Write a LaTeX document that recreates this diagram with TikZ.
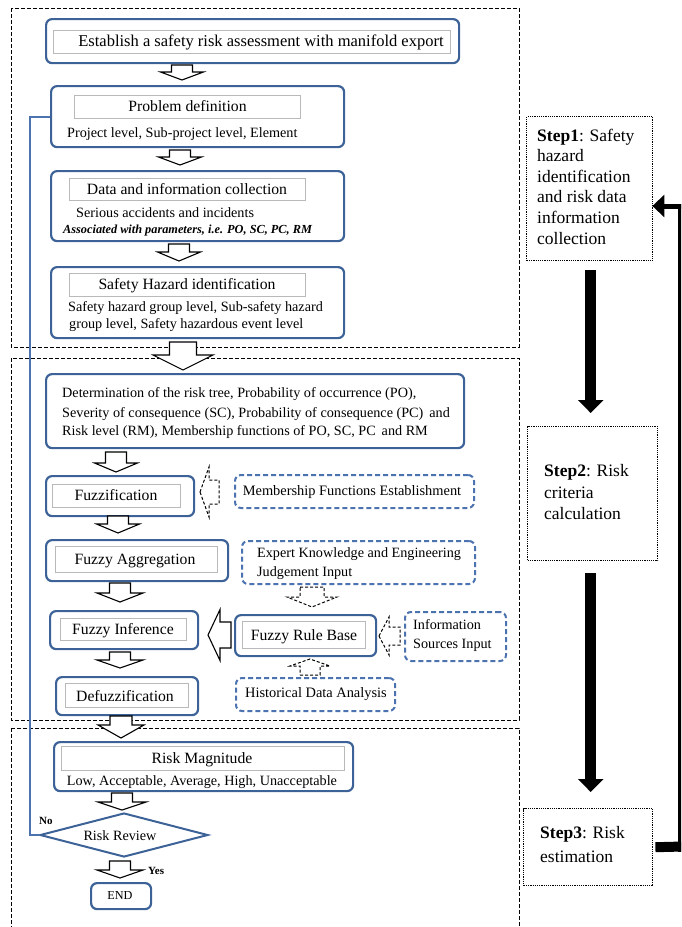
\documentclass[tikz,border=0pt]{standalone}
\usepackage{fontspec}
\setmainfont{Liberation Serif}
\usetikzlibrary{calc,arrows.meta,shapes.geometric}
\definecolor{blu}{RGB}{60,98,152}
\definecolor{blul}{RGB}{75,115,175}
\newcommand\fHead{\fontsize{15.7}{18}\selectfont}
\newcommand\fBody{\fontsize{14.2}{18}\selectfont}
\newcommand\fStep{\fontsize{17.5}{21}\selectfont}
% vertical hollow arrow pointing down: x, ytop, ytip, shaft half, head half, head len, style
\newcommand\hdown[7]{\draw[#7] ({#1-#4},#2) -- ({#1+#4},#2) -- ({#1+#4},{#3-#6}) -- ({#1+#5},{#3-#6}) -- (#1,#3) -- ({#1-#5},{#3-#6}) -- ({#1-#4},{#3-#6}) -- cycle;}
% vertical hollow arrow pointing up: x, ybottom, ytip, shaft half, head half, head len, style
\newcommand\hup[7]{\draw[#7] ({#1-#4},#2) -- ({#1+#4},#2) -- ({#1+#4},{#3+#6}) -- ({#1+#5},{#3+#6}) -- (#1,#3) -- ({#1-#5},{#3+#6}) -- ({#1-#4},{#3+#6}) -- cycle;}
% horizontal hollow arrow pointing left: xtip, xend, yc, shaft half, head half, head len, style
\newcommand\hleft[7]{\draw[#7] (#1,#3) -- ({#1+#6},{#3-#5}) -- ({#1+#6},{#3-#4}) -- (#2,{#3-#4}) -- (#2,{#3+#4}) -- ({#1+#6},{#3+#4}) -- ({#1+#6},{#3+#5}) -- cycle;}
\tikzset{
  bbox/.style={draw=blu, line width=2.2pt, rounded corners=6pt, inner sep=0pt, anchor=north west},
  gbox/.style={draw=gray!55, line width=1pt, fill=white, inner sep=0pt, anchor=north west},
  dbox/.style={draw=blul, line width=2pt, dash pattern=on 5pt off 3pt, rounded corners=6pt, inner sep=0pt, anchor=north west},
  region/.style={draw=black, line width=0.9pt, dash pattern=on 4pt off 2pt},
  stepbox/.style={draw=black, line width=1.4pt, dash pattern=on 1.2pt off 1pt, inner sep=0pt, anchor=north west},
  hollow/.style={draw=black, line width=1.1pt, fill=white, line join=miter},
  dhollow/.style={draw=black, line width=1pt, dash pattern=on 3pt off 2pt, fill=white, line join=miter},
  hd/.style={font=\fHead, inner sep=0pt, anchor=base},
  bd/.style={font=\fBody, inner sep=0pt, anchor=base west},
  st/.style={font=\fStep, inner sep=0pt, anchor=base west},
  thick arrow/.style={line width=11pt, -{Triangle[width=25pt,length=13pt]}},
  fb/.style={draw=blul, line width=2pt},
}
\begin{document}
\begin{tikzpicture}[x=1pt,y=-1pt]
\useasboundingbox (0,0) rectangle (681,927);
\clip (0,0) rectangle (681,927);

% ---- dashed regions
\draw[region] (11,8) rectangle (519,347);
\draw[region] (11,358) rectangle (519,720);
\draw[region] (11,728) rectangle (519,960);

% ---- feedback blue line (No)
\coordinate (fbx) at (30,0);

% ---- section 1
\node[bbox, minimum width=413, minimum height=44] (est) at (45,18) {};
\node[gbox, minimum width=397, minimum height=23] (estin) at (53,30) {};
\node[hd, font=\fontsize{16.5}{18}\selectfont] (estt) at (261,46) {Establish a safety risk assessment with manifold export};

\node[bbox, minimum width=293, minimum height=61] (prob) at (50,85) {};
\node[gbox, minimum width=226, minimum height=23] (probin) at (74,95) {};
\node[hd] (probt) at (187.5,111.5) {Problem definition};
\node[bd] (probl) at (67,137) {Project level, Sub-project level, Element};

\node[bbox, minimum width=293, minimum height=70] (data) at (50,170) {};
\node[gbox, minimum width=236, minimum height=22] (datain) at (69,178) {};
\node[hd] (datat) at (187,194) {Data and information collection};
\node[bd] (datal1) at (76,217) {Serious accidents and incidents};
\node[bd, font=\fontsize{12.3}{14}\selectfont\itshape\bfseries] (datal2) at (63,233) {Associated with parameters, i.e. PO, SC, PC, RM};

\node[bbox, minimum width=293, minimum height=71] (haz) at (50,266) {};
\node[gbox, minimum width=236, minimum height=23] (hazin) at (69,273) {};
\node[hd] (hazt) at (187,289) {Safety Hazard identification};
\node[bd] (hazl1) at (68,311) {Safety hazard group level, Sub-safety hazard};
\node[bd] (hazl2) at (69,328) {group level, Safety hazardous event level};

\hdown{182}{65}{80}{10.5}{21.5}{8}{hollow}
\hdown{180}{150}{165}{10.5}{21.5}{8}{hollow}
\hdown{179}{244}{261}{10.5}{21.5}{9}{hollow}

% ---- section 2
\node[bbox, minimum width=418, minimum height=74] (det) at (45,373) {};
\node[bd] (det1) at (62,397) {Determination of the risk tree, Probability of occurrence (PO),};
\node[bd] (det2) at (62,417) {Severity of consequence (SC), Probability of consequence (PC)\, and};
\node[bd] (det3) at (62,435) {Risk level (RM), Membership functions of PO, SC, PC\, and RM};

\hdown{183}{342}{370}{13.5}{30}{15}{hollow}

\node[bbox, minimum width=148, minimum height=40] (fuzz) at (45,475) {};
\node[gbox, minimum width=128, minimum height=23] (fuzzin) at (52,484) {};
\node[hd] (fuzzt) at (116,500) {Fuzzification};

\node[dbox, minimum width=239, minimum height=33] (memb) at (234,474) {};
\node[hd, font=\fontsize{14.4}{17}\selectfont] (membt) at (352,495) {Membership Functions Establishment};

\node[bbox, minimum width=182, minimum height=41] (agg) at (45,539) {};
\node[gbox, minimum width=162, minimum height=26] (aggin) at (55,546) {};
\node[hd] (aggt) at (135,564) {Fuzzy Aggregation};

\node[dbox, minimum width=233, minimum height=43] (expert) at (241,540) {};
\node[bd] (exp1) at (257,557) {Expert Knowledge and Engineering};
\node[bd] (exp2) at (257,576) {Judgement Input};

\node[bbox, minimum width=148, minimum height=38] (inf) at (49,610) {};
\node[gbox, minimum width=126, minimum height=22] (infin) at (60,618) {};
\node[hd] (inft) at (123,634) {Fuzzy Inference};

\node[bbox, minimum width=141, minimum height=41] (rule) at (234,614) {};
\node[gbox, minimum width=123, minimum height=27] (rulein) at (242,621) {};
\node[hd] (rulet) at (304,640) {Fuzzy Rule Base};

\node[dbox, minimum width=101, minimum height=49] (info) at (404,611) {};
\node[bd] (info1) at (413,629.5) {Information};
\node[bd] (info2) at (413,648.5) {Sources Input};

\node[dbox, minimum width=159, minimum height=33] (hist) at (235,677) {};
\node[hd, font=\fontsize{14.4}{17}\selectfont] (histt) at (316,697) {Historical Data Analysis};

\node[bbox, minimum width=142, minimum height=38] (defz) at (55,676) {};
\node[gbox, minimum width=123, minimum height=24] (defzin) at (65,683) {};
\node[hd] (defzt) at (125,701) {Defuzzification};

\hdown{116}{452}{472}{10.5}{21.5}{9}{hollow}
\hdown{118}{516}{533}{10.5}{21.5}{9}{hollow}
\hdown{120}{583}{602}{10.5}{23}{9}{hollow}
\hdown{120}{652}{668}{10.5}{23}{8}{hollow}
\hleft{208}{231}{635}{13}{25.5}{12}{hollow}
\hleft{200}{219}{492}{12}{25}{9}{dhollow}
\hleft{379}{400}{636}{9}{19}{10}{dhollow}
\hdown{312}{587}{607}{12}{25}{10}{dhollow}
\hup{310}{675}{659}{10}{20}{7}{dhollow}

% ---- section 3
\hdown{121}{716}{738}{11}{23}{13}{hollow}
\node[bbox, minimum width=299, minimum height=49] (mag) at (53,741) {};
\node[gbox, minimum width=283, minimum height=24] (magin) at (61,746) {};
\node[hd] (magt) at (202,763) {Risk Magnitude};
\node[hd, font=\fBody] (magl) at (202,785) {Low, Acceptable, Average, High, Unacceptable};

\hdown{122}{793}{810}{10.5}{24}{8}{hollow}
\node[diamond, draw=blu, line width=2pt, aspect=3.8, minimum width=168, minimum height=44, inner sep=0pt] (review) at (124,835) {};
\node[hd, font=\fBody] (reviewt) at (120,840) {Risk Review};
\hdown{120}{861}{878}{10.5}{23}{8}{hollow}
\node[bd, font=\fontsize{11}{13}\selectfont\bfseries] (yes) at (148,874) {Yes};
\node[bbox, minimum width=60, minimum height=26] (end) at (90,882) {};
\node[hd, font=\fontsize{12.2}{14}\selectfont] (endt) at (120,899.5) {END};

\draw[fb] (prob.west) -- (prob.west -| fbx) -- (fbx |- review.west) -- (review.west);
\node[bd, font=\fontsize{11}{13}\selectfont\bfseries] (no) at (39,824) {No};

% ---- step column
\node[stepbox, minimum width=126, minimum height=144] (s1) at (526,116) {};
\node[st] (s1a) at (537,141) {\textbf{Step1}: Safety};
\node[st] (s1b) at (537,161.5) {hazard};
\node[st] (s1c) at (537,182) {identification};
\node[st] (s1d) at (537,202.5) {and risk data};
\node[st] (s1e) at (537,223) {information};
\node[st] (s1f) at (537,244) {collection};

\node[stepbox, minimum width=130, minimum height=134] (s2) at (527,426) {};
\node[st] (s2a) at (544,476) {\textbf{Step2}: Risk};
\node[st] (s2b) at (544,498) {criteria};
\node[st] (s2c) at (544,519) {calculation};

\node[stepbox, minimum width=129, minimum height=77] (s3) at (523,808) {};
\node[st] (s3a) at (540,838) {\textbf{Step3}: Risk};
\node[st] (s3b) at (540,862) {estimation};

\coordinate (t1) at ($(s1.south)+(1,9)$);
\coordinate (c2) at ($(s2.north)+(0,-13)$);
\draw[thick arrow] (t1) -- (t1 |- c2);
\coordinate (t2) at ($(s2.south)+(-2,12)$);
\coordinate (c3) at ($(s3.north)+(0,-16)$);
\draw[thick arrow] (t2) -- (t2 |- c3);

\coordinate (fbB) at (680,846.5);
\coordinate (fbT) at (680,206);
\draw[line width=10pt] ($(s3.east)+(2,0)$) -- ($(fbB)+(3,0)$);
\draw[line width=5pt] ($(fbB)+(0,5)$) -- ($(fbT)+(0,-2.5)$);
\draw[line width=5pt, -{Triangle[width=22pt,length=12pt]}] ($(fbT)+(2.5,0)$) -- ($(s1.east |- fbT)+(-1,0)$);
\end{tikzpicture}
\end{document}
